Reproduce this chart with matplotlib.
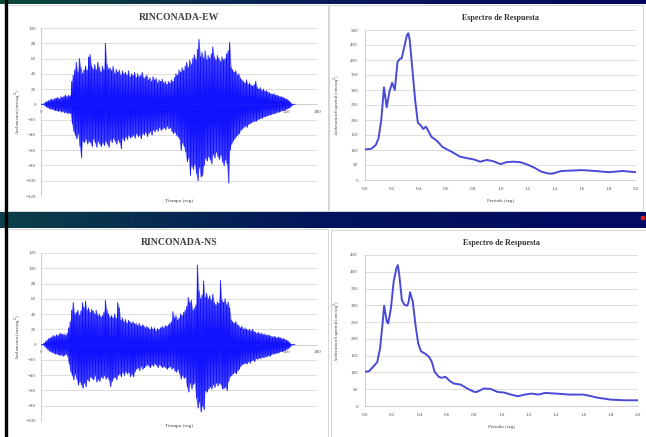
import matplotlib
matplotlib.use('Agg')

import matplotlib.pyplot as plt
import numpy as np
from matplotlib.patches import Rectangle

plt.rcParams['font.family'] = ['Liberation Serif', 'DejaVu Serif']

# peak values per 1 second bin (cm/seg2)
ew_pos = [0, 0, 1, 3, 4, 5, 6, 7, 6, 8,
          8, 9, 7, 10, 9, 11, 12, 10, 12, 11,
          30, 38, 45, 55, 42, 60, 48, 40, 45, 50,
          44, 62, 65, 50, 46, 52, 45, 55, 48, 42,
          50, 45, 80, 52, 46, 48, 44, 50, 40, 46,
          42, 45, 38, 44, 40, 42, 38, 44, 36, 40,
          38, 42, 35, 40, 36, 38, 42, 34, 36, 38,
          32, 35, 30, 36, 32, 34, 28, 32, 30, 33,
          28, 30, 26, 30, 28, 32, 30, 35, 40, 38,
          45, 42, 48, 44, 50, 55, 48, 58, 52, 60,
          65, 58, 72, 85, 62, 68, 60, 70, 58, 64,
          60, 66, 75, 62, 58, 64, 60, 56, 62, 58,
          60, 66, 70, 81, 48, 45, 42, 44, 38, 40,
          34, 32, 30, 28, 32, 26, 28, 25, 24, 26,
          30, 22, 20, 22, 18, 20, 17, 18, 16, 15,
          14, 13, 14, 12, 12, 11, 10, 10, 9, 8,
          7, 6, 4, 2, 0, 0]
ew_neg = [0, 0, -1, -3, -4, -5, -6, -6, -7, -8,
          -8, -9, -8, -10, -9, -11, -10, -12, -11, -12,
          -25, -35, -40, -45, -38, -55, -70, -48, -50, -45,
          -52, -48, -50, -55, -45, -50, -56, -48, -52, -55,
          -50, -54, -48, -52, -56, -46, -50, -44, -48, -52,
          -46, -50, -58, -44, -48, -42, -46, -40, -44, -42,
          -40, -44, -38, -42, -40, -45, -38, -40, -36, -42,
          -38, -35, -40, -33, -36, -32, -35, -30, -34, -32,
          -30, -33, -28, -32, -30, -35, -38, -36, -40, -42,
          -45, -60, -50, -55, -62, -75, -70, -93, -80, -85,
          -78, -90, -100, -82, -95, -93, -80, -70, -74, -68,
          -72, -78, -65, -70, -62, -68, -72, -66, -75, -80,
          -72, -78, -103, -60, -52, -48, -45, -42, -40, -38,
          -34, -32, -30, -28, -30, -26, -25, -24, -22, -22,
          -22, -20, -19, -18, -18, -16, -16, -15, -14, -14,
          -13, -12, -12, -11, -10, -10, -9, -8, -8, -7,
          -6, -5, -4, -2, 0, 0]

ns_pos = [0, 0, 2, 4, 6, 8, 9, 10, 12, 11,
          13, 12, 14, 15, 13, 14, 12, 15, 22, 30,
          45, 55, 40, 42, 45, 38, 44, 55, 48, 57,
          45, 48, 42, 46, 44, 40, 45, 38, 40, 36,
          38, 42, 58, 45, 40, 36, 38, 35, 40, 34,
          55, 48, 32, 35, 30, 33, 28, 32, 30, 28,
          30, 27, 28, 25, 28, 24, 26, 25, 22, 24,
          22, 20, 23, 20, 22, 18, 21, 20, 22, 24,
          22, 25, 24, 26, 28, 30, 43, 35, 38, 32,
          35, 40, 38, 42, 45, 50, 62, 55, 58, 45,
          48, 52, 104, 70, 60, 65, 83, 62, 67, 60,
          64, 58, 66, 55, 52, 56, 54, 84, 58, 55,
          60, 52, 56, 48, 32, 30, 28, 30, 26, 25,
          22, 24, 20, 22, 20, 19, 20, 18, 20, 17,
          16, 15, 16, 14, 15, 13, 14, 12, 13, 12,
          11, 10, 11, 10, 9, 10, 9, 8, 8, 7,
          6, 5, 3, 1, 0, 0]
ns_neg = [0, 0, -2, -4, -6, -8, -9, -10, -11, -12,
          -12, -13, -14, -13, -15, -14, -12, -15, -25, -35,
          -40, -46, -38, -45, -53, -48, -52, -57, -50, -55,
          -45, -48, -42, -44, -46, -40, -49, -45, -48, -42,
          -44, -40, -45, -42, -46, -55, -48, -44, -42, -46,
          -40, -38, -42, -36, -40, -35, -38, -36, -42, -38,
          -42, -35, -32, -30, -34, -28, -32, -30, -28, -26,
          -28, -30, -26, -28, -25, -27, -30, -26, -28, -30,
          -28, -30, -32, -30, -28, -32, -30, -34, -36, -32,
          -38, -45, -40, -44, -42, -55, -62, -50, -58, -52,
          -50, -70, -83, -75, -88, -80, -85, -60, -62, -58,
          -55, -58, -52, -56, -50, -54, -50, -52, -58, -57,
          -55, -60, -48, -42, -40, -38, -36, -38, -34, -32,
          -28, -26, -25, -24, -25, -22, -24, -21, -20, -22,
          -18, -19, -17, -18, -16, -17, -15, -16, -14, -15,
          -13, -12, -12, -11, -11, -10, -9, -9, -8, -7,
          -6, -5, -3, -1, 0, 0]

# response spectra
ew_T = [0.0, 0.03, 0.05, 0.08, 0.10, 0.12, 0.14, 0.16, 0.18, 0.20, 0.22, 0.24,
        0.26, 0.27, 0.29, 0.31, 0.32, 0.33, 0.35, 0.37, 0.39, 0.41, 0.43, 0.45,
        0.47, 0.49, 0.53, 0.57, 0.60, 0.64, 0.70, 0.76, 0.80, 0.85, 0.90, 0.95,
        1.00, 1.05, 1.10, 1.15, 1.20, 1.25, 1.30, 1.35, 1.38, 1.45, 1.50, 1.60,
        1.70, 1.80, 1.90, 2.00]
ew_Sa = [102, 103, 105, 117, 139, 200, 309, 242, 294, 324, 300, 394,
         405, 405, 444, 483, 489, 467, 367, 267, 191, 183, 170, 178,
         161, 144, 131, 111, 103, 94, 78, 72, 69, 61, 67, 62,
         53, 60, 61, 59, 51, 41, 28, 22, 21, 30, 31, 33,
         30, 26, 30, 26]

ns_T = [0.0, 0.03, 0.06, 0.09, 0.11, 0.13, 0.14, 0.16, 0.17, 0.19, 0.21, 0.23,
        0.24, 0.25, 0.27, 0.29, 0.31, 0.32, 0.33, 0.35, 0.37, 0.39, 0.41, 0.44,
        0.47, 0.49, 0.51, 0.54, 0.56, 0.59, 0.62, 0.65, 0.70, 0.75, 0.80, 0.82,
        0.87, 0.92, 0.97, 1.02, 1.07, 1.12, 1.17, 1.22, 1.27, 1.32, 1.40, 1.50,
        1.60, 1.65, 1.70, 1.80, 1.90, 2.00]
ns_Sa = [102, 104, 117, 131, 171, 251, 299, 251, 246, 291, 371, 410,
         420, 395, 316, 301, 299, 311, 339, 311, 241, 186, 163, 156,
         146, 131, 102, 87, 84, 87, 75, 67, 64, 52, 42, 42,
         52, 51, 42, 40, 34, 29, 34, 37, 34, 39, 37, 34,
         34, 30, 25, 19, 17, 17]

W, H = 646, 437
fig = plt.figure(figsize=(W / 100, H / 100), dpi=100)
fig.patch.set_facecolor('white')

################################## slide background

bg = fig.add_axes([0, 0, 1, 1], zorder=-5)
bg.axis('off')

grad = np.linspace(0, 1, 256).reshape(1, -1)
cmap_top = matplotlib.colors.LinearSegmentedColormap.from_list('top', ['#0c4a38', '#0a1a5c', '#06065e'])
cmap_mid = matplotlib.colors.LinearSegmentedColormap.from_list('mid', ['#0b4048', '#04145c', '#020a62'])
bg.imshow(grad, extent=(0, W, 4, 0), aspect='auto', cmap=cmap_top)
bg.imshow(grad, extent=(0, W, 228, 212), aspect='auto', cmap=cmap_mid)
bg.set_xlim(0, W)
bg.set_ylim(H, 0)
bg.add_patch(Rectangle((5, 0), 2, H, color='black'))
bg.add_patch(Rectangle((641, 216), 3, 3, color='#e02020'))

for (x0, y0, x1, y1) in [(8, 5, 328, 211), (329, 5, 643, 211),
                         (8, 229, 328, 437), (331, 230, 646, 437)]:
    bg.add_patch(Rectangle((x0, y0), x1 - x0, y1 - y0, facecolor='white',
                           edgecolor='#cfcfcf', linewidth=0.6))


def px_axes(x0, y0, x1, y1):
    return fig.add_axes([x0 / W, 1 - y1 / H, (x1 - x0) / W, (y1 - y0) / H])


tick_kw = dict(labelsize=3.6, colors='#505050', length=0)


def seismogram(ax, pos, neg, ylo, yhi, title):
    t = np.arange(len(pos))
    x = np.empty(2 * len(pos))
    y = np.empty(2 * len(pos))
    x[0::2] = t
    x[1::2] = t + 0.5
    y[0::2] = pos
    y[1::2] = neg
    # dense core plus the individual peaks
    ax.fill_between(t, pos, neg, color='#1010ff', alpha=0.55, linewidth=0, zorder=2)
    ax.plot(x, y, color='#0000ff', linewidth=0.7, alpha=0.85, zorder=3)

    ax.set_xlim(0, 180)
    ax.set_ylim(ylo, yhi)
    ax.set_yticks(np.arange(ylo, yhi + 1, 20))
    ax.set_xticks(np.arange(0, 181, 20))
    ax.grid(axis='y', color='#d8d8d8', linewidth=0.6)
    ax.set_axisbelow(True)
    for s in ['top', 'right']:
        ax.spines[s].set_visible(False)
    ax.spines['left'].set_color('#c8c8c8')
    ax.spines['left'].set_linewidth(0.6)
    ax.spines['bottom'].set_position(('data', 0))
    ax.spines['bottom'].set_color('#c8c8c8')
    ax.spines['bottom'].set_linewidth(0.5)
    ax.tick_params(axis='both', **tick_kw)
    ax.tick_params(axis='x', pad=4)
    ax.set_title(title, fontsize=7, fontweight='bold', color='#404040', pad=6)
    ax.text(-0.085, 0.5, 'Aceleracion (cm/seg$^2$)', transform=ax.transAxes,
            rotation=90, ha='center', va='center', fontsize=3.5, color='#404040')
    ax.text(0.5, -0.015, 'Tiempo (seg)', transform=ax.transAxes,
            ha='center', va='top', fontsize=3.8, color='#404040')


def spectrum(ax, T, Sa, ymax, title):
    ax.plot(T, Sa, color='#4a4ad8', linewidth=1.4, zorder=3,
            solid_joinstyle='round')
    ax.set_xlim(0, 2.0)
    ax.set_ylim(0, ymax)
    ax.set_yticks(np.arange(0, ymax + 1, 50))
    ax.set_xticks(np.arange(0, 2.01, 0.2))
    ax.set_xticklabels(['%.1f' % v for v in np.arange(0, 2.01, 0.2)])
    ax.grid(axis='y', color='#d8d8d8', linewidth=0.6)
    ax.set_axisbelow(True)
    for s in ['top', 'right']:
        ax.spines[s].set_visible(False)
    for s in ['left', 'bottom']:
        ax.spines[s].set_color('#c8c8c8')
        ax.spines[s].set_linewidth(0.6)
    ax.tick_params(axis='both', **tick_kw)
    ax.tick_params(axis='x', pad=5)
    ax.tick_params(axis='y', pad=5)
    ax.set_title(title, fontsize=5.8, fontweight='bold', color='#303030', pad=7)
    ax.set_ylabel('Aceleracion Espectral (cm/seg$^2$)', fontsize=3.3, color='#404040', labelpad=6)
    ax.set_xlabel('Periodo (seg)', fontsize=3.6, color='#404040', labelpad=6)


ax1 = px_axes(41, 28, 317, 196)
seismogram(ax1, ew_pos, ew_neg, -120, 100, 'RINCONADA-EW')

ax2 = px_axes(365, 30, 636, 180)
spectrum(ax2, ew_T, ew_Sa, 500, 'Espectro de Respuesta')

ax3 = px_axes(41, 253, 317, 421)
seismogram(ax3, ns_pos, ns_neg, -100, 120, 'RINCONADA-NS')

ax4 = px_axes(365, 255, 638, 406)
spectrum(ax4, ns_T, ns_Sa, 450, 'Espectro de Respuesta')

plt.savefig('out.png', dpi=100)
